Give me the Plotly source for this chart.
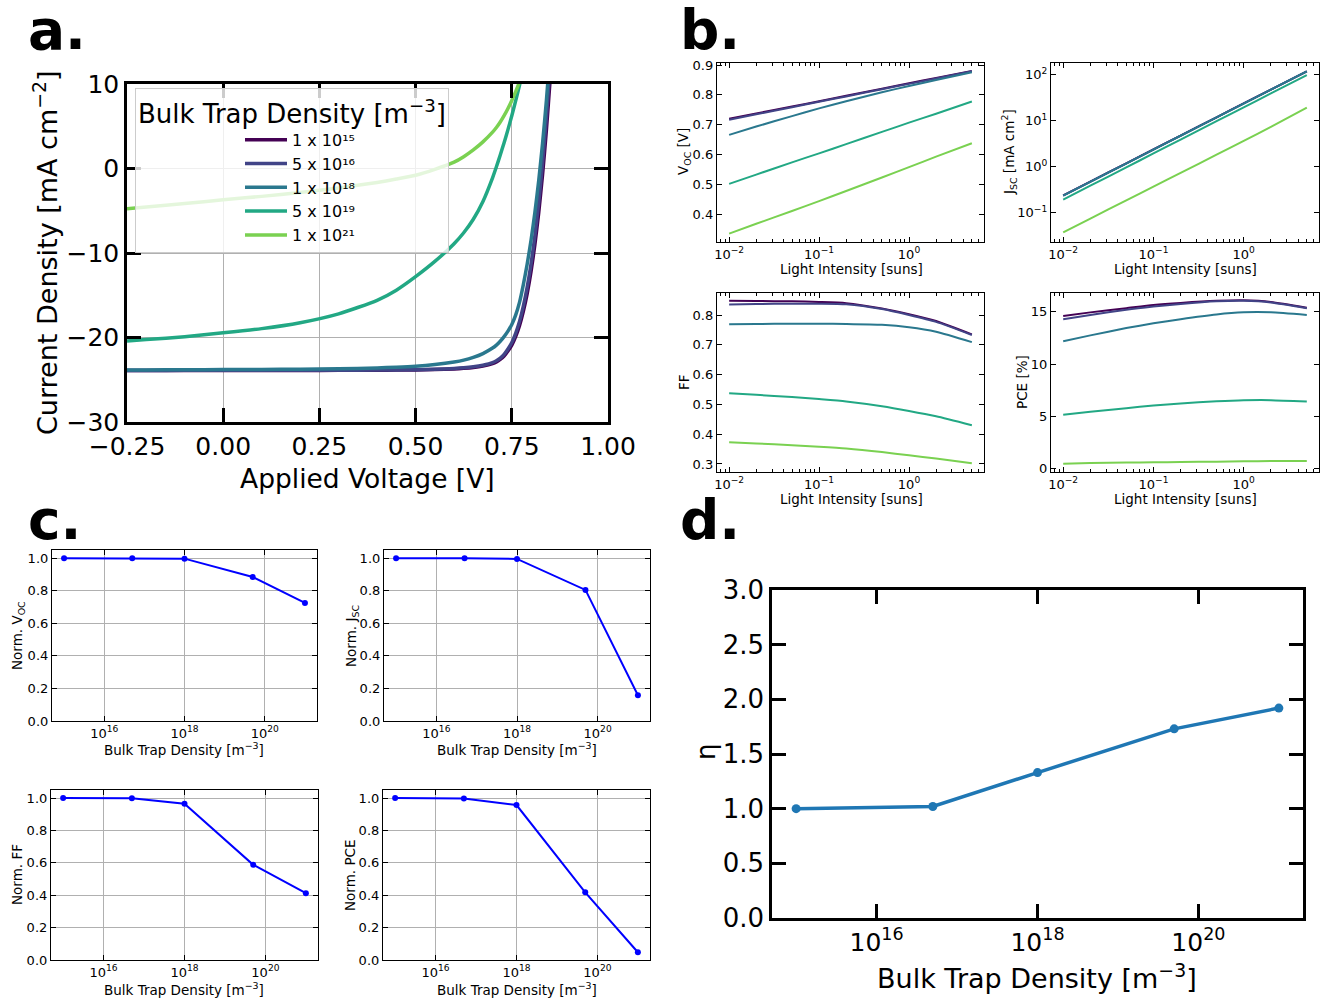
import plotly.graph_objects as go

W, H = 1328, 1001
OFF = 0
FW, FH = W - 2 * OFF, H - 2 * OFF
FONT = "DejaVu Sans"

# ---------------- data ----------------
trap_labels = ["1 x 10¹⁵", "5 x 10¹⁶", "1 x 10¹⁸", "5 x 10¹⁹", "1 x 10²¹"]
trap_density = [1e15, 5e16, 1e18, 5e19, 1e21]
colors = ["#440154", "#414487", "#2a788e", "#22a884", "#7ad151"]

# panel a: J-V curves
voltage = [-0.25, -0.2, -0.1, 0.0, 0.1, 0.2, 0.3, 0.4, 0.45, 0.5, 0.55, 0.6, 0.625, 0.65,
           0.675, 0.7, 0.71, 0.72, 0.73, 0.74, 0.75, 0.76, 0.77, 0.78, 0.79, 0.8, 0.81,
           0.82, 0.83, 0.84, 0.85, 0.86]
jv_1e15 = [-23.92, -23.92, -23.91, -23.91, -23.90, -23.90, -23.89, -23.88, -23.86, -23.84,
           -23.80, -23.72, -23.65, -23.55, -23.38, -23.10, -22.90, -22.60, -22.20, -21.60,
           -20.90, -19.90, -18.60, -16.90, -14.80, -12.20, -9.00, -5.20, -0.70, 4.60, 10.80, 18.00]
jv_5e16 = [-23.90, -23.90, -23.89, -23.89, -23.88, -23.88, -23.87, -23.86, -23.84, -23.81,
           -23.76, -23.67, -23.59, -23.47, -23.28, -22.98, -22.76, -22.44, -22.00, -21.36,
           -20.60, -19.52, -18.12, -16.30, -14.04, -11.30, -7.95, -4.00, 0.65, 6.10, 12.40, 19.70]
jv_1e18 = [-23.85, -23.84, -23.82, -23.80, -23.78, -23.75, -23.70, -23.60, -23.52, -23.40,
           -23.20, -22.90, -22.68, -22.35, -21.90, -21.25, -20.90, -20.45, -19.90, -19.25,
           -18.45, -17.35, -15.85, -13.75, -11.30, -8.50, -5.20, -1.40, 3.00, 8.10, 14.00, 20.50]
jv_5e19 = [-20.40, -20.25, -19.90, -19.45, -18.95, -18.25, -17.20, -15.60, -14.40, -12.80,
           -11.00, -8.90, -7.60, -6.00, -3.90, -1.10, 0.20, 1.60, 3.05, 4.60,
           6.25, 8.00, 9.85, 11.80, 13.85, 16.00, 18.25, 20.60, 23.05, 25.60, 28.25, 31.00]
jv_1e21 = [-4.75, -4.55, -4.15, -3.70, -3.30, -2.85, -2.30, -1.65, -1.25, -0.80,
           -0.10, 0.75, 1.40, 2.20, 3.15, 4.30, 4.85, 5.50, 6.25, 7.10,
           8.05, 9.10, 10.25, 11.50, 12.85, 14.30, 15.85, 17.50, 19.25, 21.10, 23.05, 25.10]
jv_curves = [jv_1e15, jv_5e16, jv_1e18, jv_5e19, jv_1e21]

# panel b: light-intensity dependence
intensity = [0.01, 0.02, 0.05, 0.1, 0.2, 0.5, 1, 2, 5]
voc_curves = [
    [0.720, 0.738, 0.761, 0.779, 0.797, 0.821, 0.839, 0.857, 0.880],
    [0.717, 0.735, 0.759, 0.777, 0.795, 0.819, 0.837, 0.855, 0.879],
    [0.666, 0.694, 0.729, 0.755, 0.779, 0.809, 0.830, 0.850, 0.876],
    [0.502, 0.533, 0.574, 0.604, 0.635, 0.676, 0.707, 0.737, 0.778],
    [0.335, 0.368, 0.411, 0.444, 0.478, 0.523, 0.558, 0.593, 0.638],
]
jsc_curves = [
    [0.239, 0.478, 1.195, 2.39, 4.78, 11.95, 23.9, 47.8, 119.5],
    [0.238, 0.477, 1.19, 2.385, 4.77, 11.93, 23.88, 47.75, 119.3],
    [0.236, 0.473, 1.18, 2.37, 4.74, 11.86, 23.75, 47.5, 118.6],
    [0.194, 0.389, 0.975, 1.955, 3.92, 9.82, 19.7, 39.4, 98.0],
    [0.0377, 0.0752, 0.187, 0.372, 0.74, 1.84, 3.68, 7.4, 19.4],
]
ff_curves = [
    [0.848, 0.847, 0.846, 0.844, 0.840, 0.822, 0.803, 0.780, 0.735],
    [0.835, 0.837, 0.838, 0.838, 0.836, 0.820, 0.800, 0.777, 0.733],
    [0.769, 0.770, 0.771, 0.771, 0.770, 0.767, 0.759, 0.744, 0.709],
    [0.537, 0.532, 0.525, 0.518, 0.510, 0.494, 0.478, 0.460, 0.430],
    [0.373, 0.369, 0.363, 0.358, 0.352, 0.340, 0.329, 0.318, 0.302],
]
pce_curves = [
    [14.6, 14.95, 15.35, 15.65, 15.85, 16.05, 16.1, 15.95, 15.4],
    [14.3, 14.7, 15.2, 15.5, 15.75, 16.0, 16.05, 15.9, 15.35],
    [12.2, 12.75, 13.45, 13.9, 14.3, 14.75, 14.95, 14.95, 14.7],
    [5.18, 5.45, 5.8, 6.05, 6.25, 6.45, 6.55, 6.56, 6.43],
    [0.50, 0.55, 0.60, 0.62, 0.65, 0.69, 0.72, 0.74, 0.75],
]

# panel c: normalised parameters at 1 sun
norm_voc = [1.0, 1.0, 0.997, 0.884, 0.725]
norm_jsc = [1.0, 1.0, 0.995, 0.805, 0.158]
norm_ff = [1.0, 0.999, 0.965, 0.588, 0.413]
norm_pce = [1.0, 0.998, 0.957, 0.418, 0.048]

# panel d: ideality factor
ideality = [1.0, 1.02, 1.33, 1.73, 1.92]

# ---------------- helpers (page pixel -> paper fraction) ----------------
def px(x):
    return (x - OFF) / FW

def py(y):
    return 1 - (y - OFF) / FH

def xd(l, r):
    return [px(l), px(r)]

def yd(t, b):
    return [py(b), py(t)]

def style(lw, tl, tw, fs, grid=False):
    return dict(showline=True, linecolor="black", linewidth=lw, mirror="allticks",
                ticks="inside", ticklen=tl, tickwidth=tw, tickcolor="black",
                tickfont=dict(size=fs, color="black", family=FONT),
                showgrid=grid, gridcolor="#b0b0b0", gridwidth=1, zeroline=False,
                automargin=False)

fig = go.Figure()

# panel a
for lab, col, J in zip(trap_labels, colors, jv_curves):
    fig.add_trace(go.Scatter(x=voltage, y=J, mode="lines", name=lab,
                             line=dict(color=col, width=3.5, shape="spline", smoothing=0.6),
                             xaxis="x", yaxis="y"))

# panel b
for k, curves in zip([2, 3, 4, 5], [voc_curves, jsc_curves, ff_curves, pce_curves]):
    for col, vals in zip(colors, curves):
        fig.add_trace(go.Scatter(x=intensity, y=vals, mode="lines", showlegend=False,
                                 line=dict(color=col, width=2, shape="spline", smoothing=0.6),
                                 xaxis=f"x{k}", yaxis=f"y{k}"))

# panel c
for k, vals in zip([6, 7, 8, 9], [norm_voc, norm_jsc, norm_ff, norm_pce]):
    fig.add_trace(go.Scatter(x=trap_density, y=vals, mode="lines+markers", showlegend=False,
                             line=dict(color="#0000ff", width=2),
                             marker=dict(color="#0000ff", size=6),
                             xaxis=f"x{k}", yaxis=f"y{k}"))

# panel d
fig.add_trace(go.Scatter(x=trap_density, y=ideality, mode="lines+markers", showlegend=False,
                         line=dict(color="#1f77b4", width=3.5),
                         marker=dict(color="#1f77b4", size=9),
                         xaxis="x10", yaxis="y10"))

lay = {}
# ---- a ----
lay["xaxis"] = dict(style(2.5, 14, 2.5, 25, True), domain=xd(127, 608), anchor="y",
                    range=[-0.25, 1.0], tick0=-0.25, dtick=0.25, tickformat=".2f")
lay["yaxis"] = dict(style(2.5, 14, 2.5, 25, True), domain=yd(84, 422), anchor="x",
                    range=[-30, 10], tick0=0, dtick=10)

# ---- b ----
log_int_vals = [0.01, 0.1, 1]
log_int_text = ["10<sup>−2</sup>", "10<sup>−1</sup>", "10<sup>0</sup>"]
minor_log = dict(ticks="inside", ticklen=3, tickwidth=1, tickcolor="black", dtick="D1",
                 showgrid=False)
bx = {2: (717, 984), 3: (1051, 1319), 4: (717, 984), 5: (1051, 1319)}
by = {2: (63, 242), 3: (63, 242), 4: (293, 472), 5: (293, 472)}
for k in [2, 3, 4, 5]:
    lay[f"xaxis{k}"] = dict(style(1.3, 5, 1.2, 13), domain=xd(*bx[k]), anchor=f"y{k}",
                            type="log", range=[-2.135, 0.834], tickmode="array",
                            tickvals=log_int_vals, ticktext=log_int_text, minor=minor_log)
lay["yaxis2"] = dict(style(1.3, 5, 1.2, 13), domain=yd(*by[2]), anchor="x2",
                     range=[0.307, 0.907], tick0=0, dtick=0.1, tickformat=".1f")
lay["yaxis3"] = dict(style(1.3, 5, 1.2, 13), domain=yd(*by[3]), anchor="x3",
                     type="log", range=[-1.633, 2.257], tickmode="array",
                     tickvals=[0.1, 1, 10, 100],
                     ticktext=["10<sup>−1</sup>", "10<sup>0</sup>", "10<sup>1</sup>", "10<sup>2</sup>"])
lay["yaxis4"] = dict(style(1.3, 5, 1.2, 13), domain=yd(*by[4]), anchor="x4",
                     range=[0.273, 0.874], tick0=0, dtick=0.1, tickformat=".1f")
lay["yaxis5"] = dict(style(1.3, 5, 1.2, 13), domain=yd(*by[5]), anchor="x5",
                     range=[-0.3, 16.8], tick0=0, dtick=5)

# ---- c ----
trap_tick_vals = [1e16, 1e18, 1e20]
trap_tick_text = ["10<sup>16</sup>", "10<sup>18</sup>", "10<sup>20</sup>"]
cx = {6: (52, 317), 7: (384, 650), 8: (51, 318), 9: (383, 650)}
cy = {6: (550, 721), 7: (550, 721), 8: (790, 960), 9: (790, 960)}
for k in [6, 7, 8, 9]:
    lay[f"xaxis{k}"] = dict(style(1.2, 5, 1.2, 13, True), domain=xd(*cx[k]), anchor=f"y{k}",
                            type="log", range=[14.7, 21.3], tickmode="array",
                            tickvals=trap_tick_vals, ticktext=trap_tick_text)
    lay[f"yaxis{k}"] = dict(style(1.2, 5, 1.2, 13, True), domain=yd(*cy[k]), anchor=f"x{k}",
                            range=[0, 1.05], tick0=0, dtick=0.2, tickformat=".1f")

# ---- d ----
lay["xaxis10"] = dict(style(2.5, 14, 2.5, 25), domain=xd(772, 1303), anchor="y10",
                      type="log", range=[14.7, 21.3], tickmode="array",
                      tickvals=trap_tick_vals, ticktext=trap_tick_text)
lay["yaxis10"] = dict(style(2.5, 14, 2.5, 26), domain=yd(590, 918), anchor="x10",
                      range=[0, 3], tick0=0, dtick=0.5, tickformat=".1f")

# ---- annotations (axis titles & panel labels) ----
def ann(text, x, y, size, angle=0, bold=False):
    return dict(text=f"<b>{text}</b>" if bold else text, x=px(x), y=py(y), xref="paper",
                yref="paper", xanchor="center", yanchor="middle", showarrow=False,
                textangle=angle, font=dict(size=size, family=FONT, color="black"))

annotations = [
    ann("a.", 57, 30, 55, bold=True),
    ann("b.", 710, 30, 55, bold=True),
    ann("c.", 55, 520, 55, bold=True),
    ann("d.", 710, 520, 55, bold=True),
    ann("Applied Voltage [V]", 367, 478, 26.5),
    ann("Current Density [mA cm<sup>−2</sup>]", 45, 253, 27, -90),
    ann("Light Intensity [suns]", 851, 269, 13.5),
    ann("Light Intensity [suns]", 1185, 269, 13.5),
    ann("Light Intensity [suns]", 851, 499, 13.5),
    ann("Light Intensity [suns]", 1185, 499, 13.5),
    ann("V<sub>OC</sub> [V]", 684, 152, 13.5, -90),
    ann("J<sub>SC</sub> [mA cm<sup>2</sup>]", 1009, 152, 13.5, -90),
    ann("FF", 684, 382, 13.5, -90),
    ann("PCE [%]", 1022, 382, 13.5, -90),
    ann("Bulk Trap Density [m<sup>−3</sup>]", 184, 749, 13.5),
    ann("Bulk Trap Density [m<sup>−3</sup>]", 517, 749, 13.5),
    ann("Bulk Trap Density [m<sup>−3</sup>]", 184, 989, 13.5),
    ann("Bulk Trap Density [m<sup>−3</sup>]", 517, 989, 13.5),
    ann("Norm. V<sub>OC</sub>", 18, 636, 13.5, -90),
    ann("Norm. J<sub>SC</sub>", 352, 636, 13.5, -90),
    ann("Norm. FF", 17, 875, 13.5, -90),
    ann("Norm. PCE", 350, 875, 13.5, -90),
    ann("Bulk Trap Density [m<sup>−3</sup>]", 1037, 976, 27),
    ann("η", 706, 752, 26, -90),
]

fig.update_layout(
    width=FW, height=FH, margin=dict(l=0, r=0, t=0, b=0),
    paper_bgcolor="white", plot_bgcolor="white",
    font=dict(family=FONT, color="black"),
    annotations=annotations,
    legend=dict(x=px(135), y=py(88), xanchor="left", yanchor="top",
                bgcolor="rgba(255,255,255,0.8)", bordercolor="#cccccc", borderwidth=1,
                font=dict(size=16, family=FONT, color="black"),
                title=dict(text="Bulk Trap Density [m<sup>−3</sup>]",
                           font=dict(size=26, family=FONT, color="black"), side="top"),
                indentation=104, itemwidth=42, tracegroupgap=0),
    **lay,
)

fig.write_html("out.html", config={"displayModeBar": False},
               post_script="document.body.style.margin='0px';")
